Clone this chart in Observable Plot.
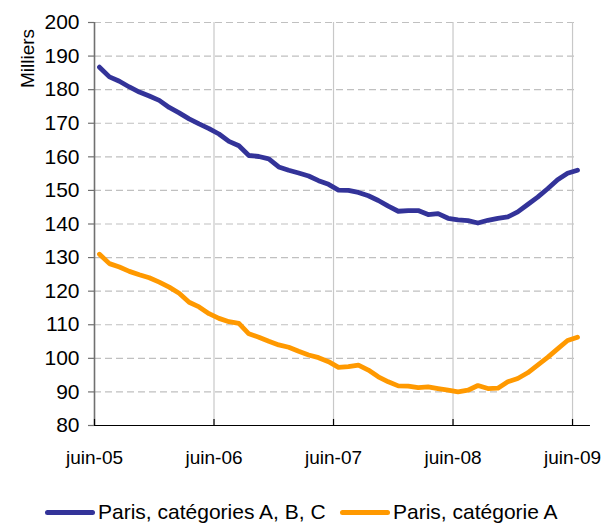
<!DOCTYPE html>
<html>
<head>
<meta charset="utf-8">
<script src="https://cdn.jsdelivr.net/npm/d3@7"></script>
<script src="https://cdn.jsdelivr.net/npm/@observablehq/plot@0.6"></script>
<style>
  html, body { margin: 0; padding: 0; background: #fff; }
  #wrap { position: relative; width: 611px; height: 525px; font-family: "Liberation Sans", Arial, sans-serif; }
  #legend { position: absolute; left: 0; top: 500px; width: 611px; height: 25px; }
  .item { position: absolute; top: 0; display: flex; align-items: center; font-size: 21px; color: #000; white-space: nowrap; }
  .sw { display: inline-block; width: 50px; height: 5px; border-radius: 3px; margin-right: 3px; }
</style>
</head>
<body>
<div id="wrap"><div id="chart"></div><div id="legend"></div></div>
<script>
// Monthly values, juin-05 .. juin-09 (milliers)
const months = ["2005-06","2005-07","2005-08","2005-09","2005-10","2005-11","2005-12",
  "2006-01","2006-02","2006-03","2006-04","2006-05","2006-06","2006-07","2006-08","2006-09","2006-10","2006-11","2006-12",
  "2007-01","2007-02","2007-03","2007-04","2007-05","2007-06","2007-07","2007-08","2007-09","2007-10","2007-11","2007-12",
  "2008-01","2008-02","2008-03","2008-04","2008-05","2008-06","2008-07","2008-08","2008-09","2008-10","2008-11","2008-12",
  "2009-01","2009-02","2009-03","2009-04","2009-05","2009-06"];
const parisABC = [186.7,183.8,182.5,180.8,179.3,178.1,176.8,174.7,173.1,171.3,169.8,168.4,166.8,
  164.6,163.3,160.4,160.1,159.4,157.0,156.0,155.2,154.3,152.9,151.8,150.1,
  150.0,149.4,148.4,147.0,145.3,143.8,144.0,144.0,142.8,143.1,141.7,141.2,
  141.0,140.3,141.1,141.7,142.1,143.6,145.8,148.0,150.5,153.2,155.1,156.0];
const parisA = [131.0,128.2,127.2,125.9,124.9,124.0,122.7,121.2,119.4,116.7,115.3,113.3,111.9,
  110.9,110.4,107.3,106.3,105.1,104.0,103.3,102.1,101.0,100.2,99.0,97.3,
  97.5,98.0,96.5,94.5,93.0,91.8,91.7,91.3,91.5,91.0,90.5,90.0,
  90.5,91.9,91.0,91.1,93.0,94.0,95.7,98.0,100.3,102.8,105.3,106.3];
const xTickLabels = ["juin-05","juin-06","juin-07","juin-08","juin-09"];
const yTicks = [80,90,100,110,120,130,140,150,160,170,180,190,200];
const seriesNames = ["Paris, catégories A, B, C", "Paris, catégorie A"];
const seriesColors = ["#333399", "#FF9900"];

// Build a tidy table: x = month index (points plotted mid-month)
const rows = [];
[parisABC, parisA].forEach((vals, s) => {
  vals.forEach((v, i) => rows.push({m: i + 0.5, v, s: seriesNames[s], month: months[i]}));
});
const xTicks = xTickLabels.map((_, i) => i * 12);

const chart = Plot.plot({
  width: 611,
  height: 480,
  marginTop: 22,
  marginBottom: 55,
  marginLeft: 94,
  marginRight: 30,
  style: {fontFamily: "'Liberation Sans', Arial, sans-serif", fontSize: "19px", color: "#000", background: "#fff", overflow: "visible"},
  x: {domain: [0, 48.9], axis: null},
  y: {domain: [80, 200], axis: null},
  color: {domain: seriesNames, range: seriesColors},
  marks: [
    Plot.ruleY(yTicks.filter(d => d > 80), {x1: 0, x2: 48.6, stroke: "#c0c0c0", strokeWidth: 1.2, strokeDasharray: "7,4"}),
    Plot.ruleX(xTicks.slice(1), {y1: 80, y2: 200, stroke: "#c8c8c8", strokeWidth: 1.2}),
    Plot.line(rows, {x: "m", y: "v", z: "s", stroke: "s", strokeWidth: 4.8, strokeLinejoin: "round", strokeLinecap: "round"}),
    Plot.ruleX([0], {y1: 80, y2: 200, stroke: "#707070", strokeWidth: 1.6}),
    Plot.ruleY(yTicks, {x1: -0.6, x2: 0, stroke: "#707070", strokeWidth: 1.2}),
    Plot.ruleY([80], {x1: 0, x2: 49.8, stroke: "#000", strokeWidth: 1.2}),
    Plot.ruleX(xTicks, {y1: 80, y2: 81.8, stroke: "#000", strokeWidth: 1.2}),
    Plot.text(yTicks, {x: 0, y: d => d, dx: -15, textAnchor: "end", fontSize: 21, fill: "#000"}),
    Plot.text(xTicks, {x: d => d, y: 80, dy: 32, text: d => xTickLabels[d / 12], textAnchor: "middle", fontSize: 19, fill: "#000"}),
    Plot.text(["Milliers"], {frameAnchor: "top-left", dx: -74, dy: 36, rotate: -90, fontSize: 19, textAnchor: "middle", fill: "#000"})
  ]
});
document.getElementById("chart").appendChild(chart);

// Legend
const legend = document.getElementById("legend");
const lefts = [45, 340];
seriesNames.forEach((name, i) => {
  const item = document.createElement("div");
  item.className = "item";
  item.style.left = lefts[i] + "px";
  const sw = document.createElement("span");
  sw.className = "sw";
  sw.style.background = seriesColors[i];
  const t = document.createElement("span");
  t.textContent = name;
  item.appendChild(sw);
  item.appendChild(t);
  legend.appendChild(item);
});
</script>
</body>
</html>
